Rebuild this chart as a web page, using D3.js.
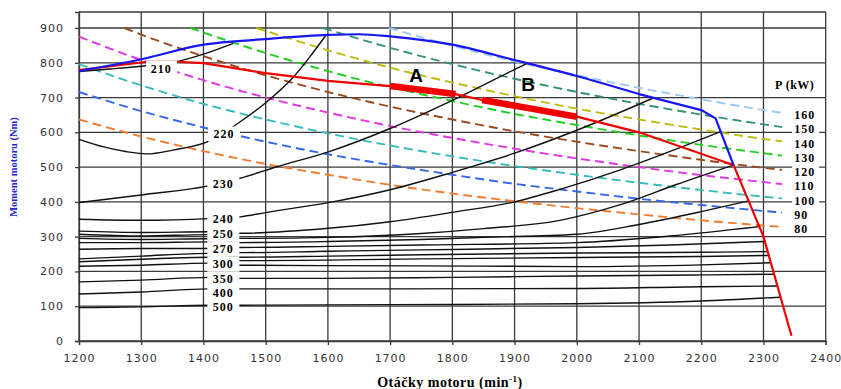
<!DOCTYPE html>
<html>
<head>
<meta charset="utf-8">
<script src="https://cdn.jsdelivr.net/npm/d3@7"></script>
<style>
body{margin:0;background:#fff;}
</style>
</head>
<body>
<div id="chart"></div>
<script>
// axes
var rpmTicks = [1200,1300,1400,1500,1600,1700,1800,1900,2000,2100,2200,2300,2400];
var torqueTicks = [0,100,200,300,400,500,600,700,800,900];

// full load curve (blue) and the operating line (red), [rpm, Nm]
var fullLoad = [[1200,776],[1300,810],[1400,852],[1500,868],[1600,880],[1650,882],[1700,876],[1800,852],[1900,808],[2000,762],[2100,710]];
var fullLoadDrop = [[2100,710],[2200,664],[2223,640],[2252,506]];
var operating = [[1200,779],[1309,803],[1357,803],[1400,799],[1500,770],[1600,748],[1700,733],[1805,710],[1848,693],[2000,645],[2100,600],[2252,506],[2300,300],[2345,15]];
var zoneA = [[1700,733],[1805,710]];
var zoneB = [[1848,693],[2000,645]];
var zoneNames = ["A","B"];

// constant power lines, kW
var powerKW = [160,150,140,130,120,110,100,90,80];
var p160 = [[1698,900],[1800,849],[1900,804],[2000,764],[2100,728],[2200,695],[2300,664],[2330,656]];
var p150 = [[1592,900],[1700,843],[1800,796],[1900,754],[2000,716],[2100,682],[2200,651],[2300,623],[2330,615]];
var p140 = [[1485,900],[1600,836],[1700,786],[1800,743],[1900,704],[2000,668],[2100,637],[2200,608],[2300,581],[2330,574]];
var p130 = [[1379,900],[1400,887],[1500,828],[1600,776],[1700,730],[1800,690],[1900,653],[2000,621],[2100,591],[2200,564],[2300,540],[2330,533]];
var p120 = [[1273,900],[1300,881],[1400,819],[1500,764],[1600,716],[1700,674],[1800,637],[1900,603],[2000,573],[2100,546],[2200,521],[2300,498],[2330,492]];
var p110 = [[1200,875],[1300,808],[1400,750],[1500,700],[1600,657],[1700,618],[1800,584],[1900,553],[2000,525],[2100,500],[2200,477],[2300,457],[2330,451]];
var p100 = [[1200,796],[1300,735],[1400,682],[1500,637],[1600,597],[1700,562],[1800,531],[1900,503],[2000,478],[2100,455],[2200,434],[2300,415],[2330,410]];
var p90 = [[1200,716],[1300,661],[1400,614],[1500,573],[1600,537],[1700,506],[1800,478],[1900,452],[2000,430],[2100,409],[2200,391],[2300,374],[2330,369]];
var p80 = [[1200,637],[1300,588],[1400,546],[1500,509],[1600,478],[1700,449],[1800,424],[1900,402],[2000,382],[2100,364],[2200,347],[2300,332],[2330,328]];
var powerLines = [p160,p150,p140,p130,p120,p110,p100,p90,p80];
var powerColors = ["#9cc8f4","#35917c","#bdbd10","#22d022","#9a4a1c","#e236e2","#36bcbc","#3768ea","#f27c34"];

// specific consumption lines (g/kWh)
var iso210 = [[1200,775],[1250,782],[1310,792],[1357,803],[1395,822],[1448,856]];
var iso220 = [[1200,580],[1240,558],[1277,544],[1309,538],[1351,549],[1411,576],[1454,624],[1502,688],[1545,760],[1571,817],[1598,882]];
var iso230 = [[1200,398],[1300,420],[1408,446],[1459,468],[1518,501],[1601,544],[1700,611],[1800,692],[1898,779],[1922,800]];
var iso240 = [[1200,350],[1300,347],[1410,352],[1459,357],[1502,370],[1601,398],[1700,435],[1800,485],[1900,540],[2000,606],[2122,698]];
var iso245 = [[1200,316],[1300,312],[1410,314],[1459,310],[1601,324],[1700,343],[1800,370],[1900,400],[1973,436],[2070,492],[2150,545],[2231,602]];
var iso250 = [[1200,307],[1300,302],[1410,306],[1459,295],[1601,298],[1750,309],[1850,323],[1973,347],[2070,392],[2160,450],[2252,506]];
var iso260 = [[1200,295],[1300,292],[1410,294],[1459,283],[1601,286],[1750,292],[1850,298],[2000,307],[2100,335],[2200,372],[2276,403]];
var iso265 = [[1200,283],[1300,283],[1410,285],[1459,269],[1601,272],[1750,276],[2000,283],[2150,302],[2293,329]];
var iso270 = [[1200,264],[1300,266],[1410,266],[1459,254],[1601,258],[1750,262],[2000,269],[2150,276],[2302,286]];
var iso280 = [[1200,236],[1300,244],[1410,252],[1459,241],[1601,244],[1750,248],[2000,253],[2200,255],[2307,257]];
var iso290 = [[1200,228],[1300,235],[1410,241],[1459,231],[1750,236],[2000,240],[2200,243],[2309,246]];
var iso300 = [[1200,215],[1300,218],[1410,224],[1459,218],[1750,216],[2000,214],[2200,219],[2312,225]];
var iso350 = [[1200,170],[1300,175],[1410,183],[1459,180],[1600,180],[1800,183],[2000,187],[2200,190],[2317,192]];
var iso400 = [[1200,135],[1300,141],[1410,150],[1459,150],[1700,150],[2000,151],[2200,156],[2322,158]];
var iso500 = [[1200,96],[1300,98],[1410,103],[1459,103],[1600,104],[1800,105],[2000,107],[2200,115],[2327,126]];
var isoLines = [iso210,iso220,iso230,iso240,iso245,iso250,iso260,iso265,iso270,iso280,iso290,iso300,iso350,iso400,iso500];
var isoLabels = ["210","220","230","240","250","270","300","350","400","500"];
var isoLabelAt = [[1332,784],[1433,595],[1432,451],[1432,350],[1432,307],[1432,264],[1432,221],[1432,178],[1432,140],[1432,97]];

var chart =
{
	width:841,
	height:389,
	initialize:function()
	{
		var svg = d3.select("#chart").append("svg")
			.attr("width", this.width).attr("height", this.height)
			.style("background", "#fff");

		var x = d3.scaleLinear().domain([1200, 2400]).range([79, 825.7]);
		var y = d3.scaleLinear().domain([0, 946]).range([341, 12]);

		// grid
		var grid = svg.append("g").attr("stroke", "#3a3a3a").attr("stroke-width", 1.3);
		grid.selectAll("line.v").data(rpmTicks).enter().append("line")
			.attr("x1", function(d){ return x(d); }).attr("x2", function(d){ return x(d); })
			.attr("y1", y(0)).attr("y2", y(946));
		grid.selectAll("line.h").data(torqueTicks.concat([946])).enter().append("line")
			.attr("x1", x(1200)).attr("x2", x(2400))
			.attr("y1", function(d){ return y(d); }).attr("y2", function(d){ return y(d); });

		var xAxis = svg.append("g").attr("transform", "translate(0," + y(0) + ")")
			.call(d3.axisBottom(x).tickValues(rpmTicks).tickSize(4).tickPadding(9).tickFormat(d3.format("d")));
		var yAxis = svg.append("g").attr("transform", "translate(" + x(1200) + ",0)")
			.call(d3.axisLeft(y).tickValues(torqueTicks).tickSize(4).tickPadding(11).tickFormat(d3.format("d")));
		[xAxis, yAxis].forEach(function(a)
		{
			a.select(".domain").attr("stroke", "#3a3a3a").attr("stroke-width", 1.3);
			a.selectAll(".tick line").attr("stroke", "#3a3a3a").attr("stroke-width", 1.3);
			a.selectAll(".tick text").attr("fill", "#333")
				.style("font-family", "'DejaVu Sans', Verdana, sans-serif")
				.style("font-size", "11px").style("letter-spacing", "1px");
		});

		var line = d3.line().x(function(d){ return x(d[0]); }).y(function(d){ return y(d[1]); }).curve(d3.curveMonotoneX);
		var straight = d3.line().x(function(d){ return x(d[0]); }).y(function(d){ return y(d[1]); });

		// power lines
		svg.selectAll("path.power").data(powerLines).enter().append("path")
			.attr("class", "power").attr("d", line).attr("fill", "none")
			.attr("stroke", function(d, i){ return powerColors[i]; })
			.attr("stroke-width", 1.9).attr("stroke-dasharray", "9,5");

		// consumption lines
		svg.selectAll("path.iso").data(isoLines).enter().append("path")
			.attr("class", "iso").attr("d", line).attr("fill", "none")
			.attr("stroke", "#111").attr("stroke-width", 1.4);

		// operating line
		svg.append("path").attr("d", straight(operating)).attr("fill", "none")
			.attr("stroke", "#f00000").attr("stroke-width", 2.2);
		svg.selectAll("path.zone").data([zoneA, zoneB]).enter().append("path")
			.attr("class", "zone").attr("d", straight).attr("fill", "none")
			.attr("stroke", "#f00000").attr("stroke-width", 6.5);

		// full load
		svg.append("path").attr("d", line(fullLoad) + straight(fullLoadDrop).replace("M", "L")).attr("fill", "none")
			.attr("stroke", "#1616f0").attr("stroke-width", 2.2).attr("stroke-linejoin", "round");

		svg.selectAll("text.zone").data(zoneNames).enter().append("text")
			.attr("class", "zone").text(function(d){ return d; })
			.attr("x", function(d, i){ return i == 0 ? 416 : 528; })
			.attr("y", function(d, i){ return i == 0 ? 82 : 91; })
			.attr("text-anchor", "middle")
			.style("font-family", "'Liberation Sans', Arial, sans-serif")
			.style("font-weight", "bold").style("font-size", "19px").attr("fill", "#000");

		// labels of consumption lines
		var lab = svg.selectAll("g.isolab").data(isoLabels).enter().append("g").attr("class", "isolab")
			.attr("transform", function(d, i){ return "translate(" + x(isoLabelAt[i][0]) + "," + y(isoLabelAt[i][1]) + ")"; });
		lab.append("rect")
			.attr("x", function(d, i){ return i == 0 ? -15 : -16; })
			.attr("width", function(d, i){ return i == 0 ? 31 : 32; })
			.attr("y", -7.5).attr("height", 15).attr("fill", "#fff");
		lab.append("text").text(function(d){ return d; })
			.attr("text-anchor", "middle").attr("dy", "0.35em")
			.style("font-family", "'Liberation Serif', 'Times New Roman', serif")
			.style("font-weight", "bold").style("font-size", "12px").style("letter-spacing", "1px");

		// power legend at the line ends
		var leg = svg.selectAll("g.powlab").data(powerKW).enter().append("g").attr("class", "powlab")
			.attr("transform", function(d, i)
			{
				var last = powerLines[i][powerLines[i].length - 1];
				return "translate(" + (x(last[0]) + 12) + "," + (y(last[1]) + 2) + ")";
			});
		leg.append("rect").attr("x", -2).attr("y", -6).attr("width", 27).attr("height", 12).attr("fill", "#fff");
		leg.append("text").text(function(d){ return d; }).attr("dy", "0.35em")
			.style("font-family", "'Liberation Serif', 'Times New Roman', serif")
			.style("font-weight", "bold").style("font-size", "12px").style("letter-spacing", "1px");

		svg.append("text").text("P  (kW)").attr("x", 775).attr("y", 89)
			.style("font-family", "'Liberation Serif', 'Times New Roman', serif")
			.style("font-weight", "bold").style("font-size", "12px").style("letter-spacing", "0.5px");

		// axis titles
		var xt = svg.append("text").attr("x", 450).attr("y", 387).attr("text-anchor", "middle")
			.style("font-family", "'Liberation Serif', 'Times New Roman', serif")
			.style("font-weight", "bold").style("font-size", "14px").style("letter-spacing", "0.5px");
		xt.append("tspan").text("Otáčky motoru (min");
		xt.append("tspan").text("-1").attr("dy", -5).style("font-size", "9px");
		xt.append("tspan").text(")").attr("dy", 5);

		svg.append("text").text("Moment motoru (Nm)")
			.attr("transform", "translate(17,167) rotate(-90)").attr("text-anchor", "middle")
			.attr("fill", "#2323d8")
			.style("font-family", "'Liberation Serif', 'Times New Roman', serif")
			.style("font-weight", "bold").style("font-size", "10.5px");
	}
};

chart.initialize();
</script>
</body>
</html>
